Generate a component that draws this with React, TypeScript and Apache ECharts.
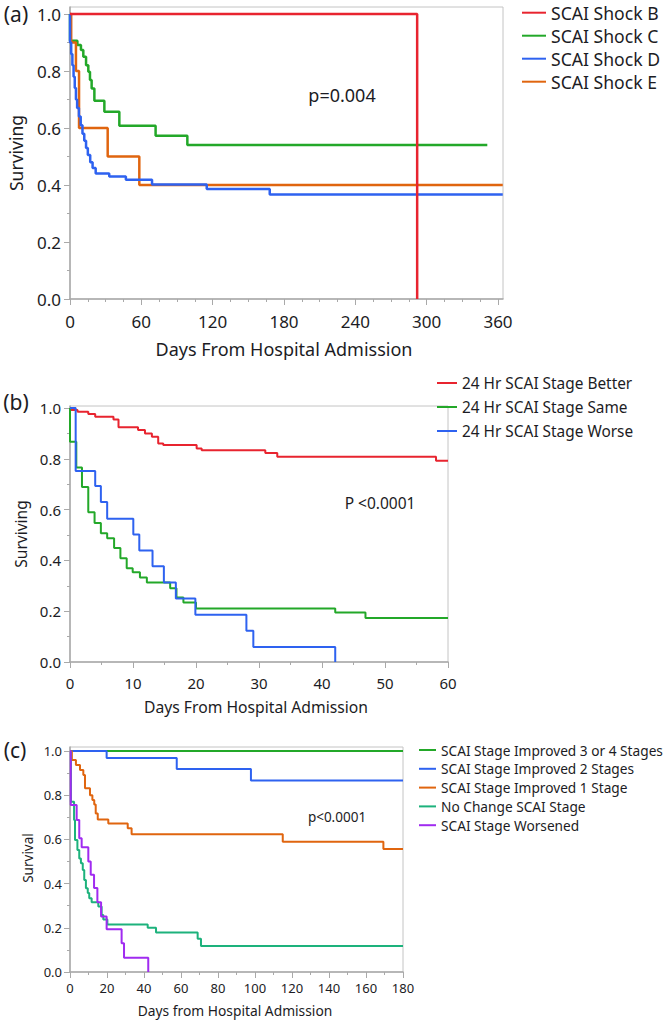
import React, { useEffect, useRef } from "react";
import * as echarts from "echarts";

// ---------- Panel (a) data ----------
const aNames = ["SCAI Shock B", "SCAI Shock C", "SCAI Shock D", "SCAI Shock E"];
const aB_t = [0, 292];
const aB_s = [1, 0];
const aC_t = [0, 0, 6.2, 9.2, 11.2, 13.5, 15.4, 16.8, 18.2, 20.5, 28.9, 41.5, 72, 98.7, 351];
const aC_s = [1, 0.906, 0.891, 0.874, 0.85, 0.82, 0.797, 0.768, 0.739, 0.696, 0.657, 0.608, 0.573, 0.54, 0.54];
const aD_t = [0, 0, 1, 2, 3, 4, 5, 6, 7.5, 9, 10.5, 12, 13.5, 15, 17, 19, 21.6, 33, 47, 69, 115, 168, 364];
const aD_s = [1, 0.9, 0.86, 0.82, 0.78, 0.74, 0.7, 0.67, 0.64, 0.61, 0.58, 0.555, 0.53, 0.505, 0.48, 0.46, 0.44, 0.43, 0.418, 0.402, 0.386, 0.367, 0.367];
const aE_t = [0, 1, 5, 7.6, 31.7, 58.3, 364];
const aE_s = [1, 0.9, 0.8, 0.6, 0.5, 0.4, 0.4];
const aXTicks = [0, 60, 120, 180, 240, 300, 360];
const aXMinor = [15, 30, 45, 75, 90, 105, 135, 150, 165, 195, 210, 225, 255, 270, 285, 315, 330, 345];

// ---------- Panel (b) data ----------
const bNames = ["24 Hr SCAI Stage Better", "24 Hr SCAI Stage Same", "24 Hr SCAI Stage Worse"];
const bBetter_t = [0, 1.2, 2.9, 4.0, 6.9, 7.7, 10.8, 11.9, 13.0, 14.0, 14.8, 20.1, 20.9, 31, 32.9, 58.1, 60];
const bBetter_s = [0.992, 0.985, 0.976, 0.966, 0.955, 0.924, 0.913, 0.9, 0.887, 0.86, 0.854, 0.841, 0.834, 0.823, 0.808, 0.792, 0.792];
const bSame_t = [0, 0, 1.0, 1.9, 2.9, 3.9, 4.9, 5.9, 7.0, 8.0, 9.0, 9.95, 11.1, 12.2, 15.9, 16.9, 18.0, 20.0, 42.1, 46.9, 60];
const bSame_s = [1.0, 0.867, 0.766, 0.689, 0.59, 0.547, 0.507, 0.487, 0.449, 0.408, 0.369, 0.353, 0.333, 0.313, 0.29, 0.254, 0.234, 0.211, 0.195, 0.173, 0.173];
const bWorse_t = [0, 0.9, 4.0, 4.9, 5.9, 10.05, 11.0, 13.1, 14.9, 16.8, 19.9, 28.0, 29.1, 42.1];
const bWorse_s = [1.0, 0.752, 0.693, 0.63, 0.564, 0.502, 0.439, 0.377, 0.313, 0.25, 0.186, 0.123, 0.059, 0];
const bXTicks = [0, 10, 20, 30, 40, 50, 60];
const bXMinor = [5, 15, 25, 35, 45, 55];

// ---------- Panel (c) data ----------
const cNames = [
  "SCAI Stage Improved 3 or 4 Stages",
  "SCAI Stage Improved 2 Stages",
  "SCAI Stage Improved 1 Stage",
  "No Change SCAI Stage",
  "SCAI Stage Worsened",
];
const cImp34_t = [0, 180];
const cImp34_s = [1, 1];
const cImp2_t = [0, 19.8, 57.7, 97.8, 180];
const cImp2_s = [1, 0.968, 0.919, 0.866, 0.866];
const cImp1_t = [0, 1, 3.2, 5.4, 7.2, 8.1, 10.8, 12.1, 13.1, 13.9, 15, 20.7, 31.2, 33.3, 115, 169.4, 180];
const cImp1_s = [1, 0.959, 0.937, 0.914, 0.891, 0.831, 0.8, 0.778, 0.758, 0.717, 0.69, 0.672, 0.65, 0.623, 0.589, 0.557, 0.557];
const cNoCh_t = [0, 0.5, 2.2, 2.7, 4, 5, 5.9, 6.9, 7.7, 8.6, 9.6, 10.4, 11.7, 15.3, 17.1, 18, 20.2, 42, 46.5, 69, 70.8, 180];
const cNoCh_s = [1, 0.77, 0.688, 0.597, 0.552, 0.514, 0.492, 0.462, 0.416, 0.379, 0.357, 0.334, 0.316, 0.296, 0.258, 0.238, 0.215, 0.2, 0.179, 0.151, 0.118, 0.118];
const cWorse_t = [0, 0.4, 3.6, 5, 6.3, 9.9, 11.2, 13, 14.8, 16.8, 19.8, 27.9, 29.2, 42.3];
const cWorse_s = [1, 0.756, 0.688, 0.605, 0.565, 0.5, 0.44, 0.38, 0.316, 0.251, 0.194, 0.13, 0.065, 0];
const cXTicks = [0, 20, 40, 60, 80, 100, 120, 140, 160, 180];
const cXMinor = [10, 30, 50, 70, 90, 110, 130, 150, 170];

const yTicks = [0, 0.2, 0.4, 0.6, 0.8, 1.0];
const yMinor = [0.1, 0.3, 0.5, 0.7, 0.9];

// ---------- styles ----------
const FONT = '"Noto Sans", "Open Sans", "DejaVu Sans", sans-serif';
const TXT = "#1c1c24";
const AX = "#a9a9a9";
const RED = "#E8242F";
const GREEN = "#23A829";
const BLUE = "#2E62F0";
const ORANGE = "#E0650F";
const TEAL = "#1DB27C";
const PURPLE = "#A02BF0";

const pairs = (t: number[], s: number[]) => t.map((x, i) => [x, s[i]]);

function majorX(gi: number, max: number, vals: number[], fs: number, margin: number) {
  return {
    type: "value", gridIndex: gi, min: 0, max, position: "bottom",
    axisLine: { show: true, onZero: false, lineStyle: { color: AX, width: 1.5 } },
    axisTick: { show: true, length: 6, customValues: vals, lineStyle: { color: AX, width: 1 } },
    axisLabel: { customValues: vals, fontSize: fs, fontFamily: FONT, color: TXT, margin, formatter: (v: number) => String(v) },
    splitLine: { show: false },
  };
}
function minorX(gi: number, max: number, vals: number[]) {
  return {
    type: "value", gridIndex: gi, min: 0, max, position: "bottom",
    axisLine: { show: false },
    axisTick: { show: true, length: 3, customValues: vals, lineStyle: { color: AX, width: 1 } },
    axisLabel: { show: false }, splitLine: { show: false },
  };
}
function majorY(gi: number, max: number, fs: number, margin: number) {
  return {
    type: "value", gridIndex: gi, min: 0, max, position: "left",
    axisLine: { show: true, onZero: false, lineStyle: { color: AX, width: 1.5 } },
    axisTick: { show: true, length: 6, customValues: yTicks, lineStyle: { color: AX, width: 1 } },
    axisLabel: { customValues: yTicks, fontSize: fs, fontFamily: FONT, color: TXT, margin, formatter: (v: number) => v.toFixed(1) },
    splitLine: { show: false },
  };
}
function minorY(gi: number, max: number) {
  return {
    type: "value", gridIndex: gi, min: 0, max, position: "left",
    axisLine: { show: false },
    axisTick: { show: true, length: 3, customValues: yMinor, lineStyle: { color: AX, width: 1 } },
    axisLabel: { show: false }, splitLine: { show: false },
  };
}
function km(name: string, xi: number, t: number[], s: number[], color: string, width: number, z = 2) {
  return {
    type: "line", name, xAxisIndex: xi, yAxisIndex: xi, data: pairs(t, s), step: "end",
    symbol: "none", showSymbol: false, z,
    lineStyle: { color, width }, itemStyle: { color },
  };
}
function txt(text: string, x: number, y: number, fs: number, extra: any = {}) {
  return {
    type: "text", x, y, ...extra,
    style: { text, fontSize: fs, fontFamily: FONT, fill: TXT, textAlign: "center", textVerticalAlign: "middle" },
  };
}
function legend(names: string[], left: number, top: number, fs: number, lh: number, gap: number, iw: number) {
  return {
    orient: "vertical", left, top, padding: 0, itemGap: gap, itemWidth: iw, itemHeight: 2, icon: "rect",
    selectedMode: false, data: names,
    textStyle: { fontSize: fs, fontFamily: FONT, color: TXT, lineHeight: lh },
  };
}

const gridStyle = { show: true, borderColor: "#c4c4c4", borderWidth: 1, backgroundColor: "transparent" };

const option = {
  animation: false,
  backgroundColor: "#ffffff",
  grid: [
    { left: 70, top: 7, width: 433, height: 292, ...gridStyle },
    { left: 70, top: 406, width: 378, height: 256, ...gridStyle },
    { left: 70, top: 747, width: 333, height: 225, ...gridStyle },
  ],
  xAxis: [
    majorX(0, 364.2, aXTicks, 17, 14),
    minorX(0, 364.2, aXMinor),
    majorX(1, 60, bXTicks, 15, 13),
    minorX(1, 60, bXMinor),
    majorX(2, 180, cXTicks, 13, 9),
    minorX(2, 180, cXMinor),
  ],
  yAxis: [
    majorY(0, 292 / 285, 17, 9),
    minorY(0, 292 / 285),
    majorY(1, 256 / 254, 15, 9),
    minorY(1, 256 / 254),
    majorY(2, 225 / 221, 13, 8),
    minorY(2, 225 / 221),
  ],
  legend: [
    legend(aNames, 522, 2.7, 17.6, 20, 3, 24),
    legend(bNames, 437, 374, 15.4, 18, 6, 20),
    legend(cNames, 419, 742.5, 13.7, 15, 3.8, 17),
  ],
  series: [
    km(aNames[1], 0, aC_t, aC_s, GREEN, 2.5),
    km(aNames[3], 0, aE_t, aE_s, ORANGE, 2.5),
    km(aNames[2], 0, aD_t, aD_s, BLUE, 2.5),
    km(aNames[0], 0, aB_t, aB_s, RED, 2.5, 3),
    km(bNames[0], 2, bBetter_t, bBetter_s, RED, 2),
    km(bNames[1], 2, bSame_t, bSame_s, GREEN, 2),
    km(bNames[2], 2, bWorse_t, bWorse_s, BLUE, 2),
    km(cNames[0], 4, cImp34_t, cImp34_s, GREEN, 2),
    km(cNames[1], 4, cImp2_t, cImp2_s, BLUE, 2),
    km(cNames[2], 4, cImp1_t, cImp1_s, ORANGE, 2),
    km(cNames[3], 4, cNoCh_t, cNoCh_s, TEAL, 2),
    km(cNames[4], 4, cWorse_t, cWorse_s, PURPLE, 2),
  ],
  graphic: [
    txt("(a)", 16, 14, 21),
    txt("(b)", 16, 402, 21),
    txt("(c)", 15, 750, 21),
    txt("p=0.004", 342, 95, 18),
    txt("P <0.0001", 380, 503, 15.5),
    txt("p<0.0001", 337, 817, 13.5),
    txt("Days From Hospital Admission", 284, 349, 18),
    txt("Days From Hospital Admission", 256, 707, 15.7),
    txt("Days from Hospital Admission", 235, 1010, 13.8),
    txt("Surviving", 16, 153, 17.5, { rotation: Math.PI / 2 }),
    txt("Surviving", 21, 534, 15.5, { rotation: Math.PI / 2 }),
    txt("Survival", 28, 858, 13.5, { rotation: Math.PI / 2 }),
  ],
};

export default function App() {
  const ref = useRef<HTMLDivElement>(null);
  useEffect(() => {
    if (!ref.current) return;
    const chart = echarts.init(ref.current, null, { renderer: "svg" });
    chart.setOption(option as any);
    return () => chart.dispose();
  }, []);
  return (
    <div
      ref={ref}
      style={{ position: "absolute", left: 0, top: 0, width: 669, height: 1022, background: "#fff" }}
    />
  );
}
